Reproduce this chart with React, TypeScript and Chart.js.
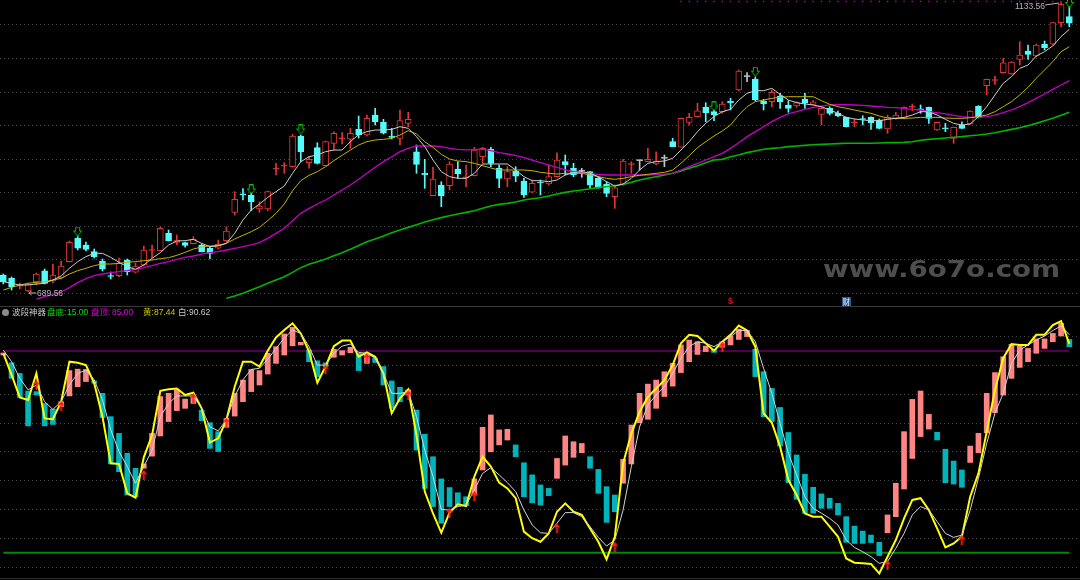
import React, { useEffect, useRef } from "react";
import { Chart, registerables } from "chart.js";

Chart.register(...registerables);

// ---------- price panel data ----------
const openP = [
  715.6, 710.6, 698.7, 691.1, 704.9, 722.2, 706.4, 711.0, 736.0, 771.9,
  761.7, 751.4, 737.1, 714.8, 714.5, 738.6, 719.8, 731.0, 753.2, 752.9,
  779.6, 765.8, 765.2, 763.6, 761.7, 756.6, 756.6, 768.2, 811.8, 840.2,
  838.3, 816.8, 816.8, 878.2, 882.8, 881.7, 928.8, 887.9, 910.9, 883.2,
  917.6, 924.5, 923.8, 939.1, 930.3, 961.0, 949.8, 928.8, 925.3, 948.3,
  904.7, 871.6, 837.2, 853.6, 852.6, 878.2, 864.7, 867.9, 897.1, 908.4,
  879.3, 862.9, 875.1, 859.8, 842.5, 858.3, 855.2, 866.4, 889.4, 879.3,
  875.0, 874.1, 863.9, 854.7, 835.7, 854.7, 885.1, 891.0, 889.4, 885.9,
  894.6, 920.1, 911.5, 949.8, 958.4, 972.8, 966.1, 966.1, 982.5, 999.4,
  1019.8, 1016.2, 982.5, 981.4, 990.2, 975.9, 974.8, 985.6, 977.4, 962.1,
  971.3, 963.6, 957.5, 949.0, 955.6, 957.5, 953.4, 939.6, 955.9, 955.9,
  973.0, 970.5, 972.8, 938.0, 941.4, 925.3, 945.7, 947.2, 974.8, 1006.0,
  1014.0, 1025.9, 1023.9, 1046.4, 1059.2, 1051.5, 1069.5, 1069.5, 1102.6, 1111.8,
];
const highP = [
  717.2, 712.6, 703.4, 703.4, 718.7, 724.8, 732.5, 737.1, 767.8, 775.5,
  766.2, 755.5, 740.2, 720.2, 741.7, 740.2, 734.0, 760.1, 761.7, 789.2,
  784.6, 777.0, 766.2, 774.4, 763.2, 758.5, 769.3, 789.7, 843.4, 848.0,
  841.4, 828.0, 844.5, 887.0, 887.9, 931.4, 930.4, 897.1, 918.5, 921.1,
  935.4, 933.9, 940.6, 959.5, 961.0, 971.3, 954.4, 940.6, 968.7, 965.2,
  915.0, 893.1, 880.8, 858.7, 889.4, 889.4, 884.3, 911.5, 911.5, 911.5,
  884.3, 881.7, 881.7, 863.9, 861.3, 861.3, 884.3, 903.2, 899.7, 886.9,
  879.3, 874.1, 865.4, 858.7, 853.6, 893.1, 889.4, 892.0, 910.0, 904.7,
  899.7, 925.3, 956.4, 963.6, 979.0, 979.9, 968.7, 981.4, 986.6, 1030.0,
  1025.9, 1019.3, 985.1, 999.4, 994.3, 983.0, 981.4, 994.3, 983.0, 973.7,
  973.7, 967.2, 957.9, 954.9, 959.9, 958.4, 954.9, 961.0, 965.2, 973.7,
  977.9, 976.4, 973.3, 950.3, 948.3, 942.6, 950.7, 967.6, 975.3, 1016.2,
  1020.8, 1048.0, 1042.8, 1073.4, 1068.4, 1069.9, 1074.5, 1103.2, 1133.56, 1127.1,
];
const lowP = [
  701.9, 692.6, 694.2, 689.56, 700.3, 701.9, 703.4, 709.5, 735.6, 754.0,
  752.4, 741.7, 721.8, 709.5, 712.6, 715.6, 718.7, 729.4, 741.7, 752.4,
  767.7, 761.6, 758.5, 763.2, 750.9, 740.2, 755.5, 766.2, 807.6, 830.7,
  814.2, 811.8, 814.2, 869.0, 871.6, 881.3, 889.4, 879.3, 885.9, 882.8,
  907.3, 916.5, 909.9, 925.7, 928.8, 945.7, 931.9, 924.2, 915.0, 943.1,
  871.6, 848.6, 837.2, 820.4, 846.0, 863.9, 851.0, 867.4, 886.9, 881.7,
  849.5, 851.0, 858.7, 834.8, 841.8, 838.3, 853.6, 865.4, 869.0, 866.4,
  865.4, 848.6, 848.6, 835.7, 817.9, 853.6, 871.6, 876.7, 889.4, 884.3,
  881.7, 912.4, 911.5, 945.7, 957.5, 950.7, 952.3, 963.6, 968.7, 997.8,
  1012.1, 982.5, 968.7, 973.7, 971.3, 965.2, 972.8, 971.3, 976.4, 945.7,
  961.0, 958.4, 942.6, 943.1, 945.7, 939.1, 939.6, 932.9, 954.4, 954.9,
  967.6, 963.6, 948.3, 937.5, 935.4, 917.6, 940.0, 946.8, 956.4, 991.7,
  1008.1, 1025.0, 1023.4, 1037.7, 1046.4, 1050.0, 1060.7, 1068.8, 1096.4, 1096.4,
];
const closeP = [
  705.4, 697.7, 700.3, 701.9, 717.2, 702.9, 715.6, 729.4, 765.8, 756.6,
  755.0, 743.7, 724.4, 713.3, 733.6, 720.7, 728.4, 754.0, 754.7, 787.2,
  768.2, 769.3, 761.1, 770.4, 751.4, 748.9, 762.7, 783.1, 831.7, 838.6,
  828.0, 821.4, 843.4, 879.7, 884.3, 928.8, 904.7, 893.1, 886.9, 920.1,
  933.0, 926.0, 933.0, 930.3, 955.9, 950.7, 933.0, 926.5, 952.3, 954.4,
  885.4, 869.0, 862.9, 836.8, 885.9, 870.5, 866.2, 907.3, 910.0, 886.9,
  863.9, 874.1, 867.4, 838.3, 856.3, 856.7, 866.4, 892.0, 884.3, 869.0,
  875.0, 853.6, 850.1, 840.9, 849.5, 890.5, 886.6, 891.0, 893.1, 890.5,
  894.6, 912.4, 955.9, 957.5, 967.6, 964.6, 961.0, 977.9, 979.4, 1028.5,
  1019.8, 984.0, 977.9, 995.8, 981.4, 971.3, 979.9, 979.0, 981.4, 971.3,
  963.6, 959.5, 943.1, 950.6, 954.1, 949.2, 940.6, 957.5, 961.0, 972.8,
  974.5, 969.0, 955.9, 949.8, 939.9, 942.2, 940.6, 967.2, 957.5, 1015.8,
  1015.5, 1041.2, 1042.3, 1053.0, 1054.1, 1068.4, 1064.2, 1102.6, 1130.8, 1101.7,
];

// moving-average lines as drawn in the picture
const ma5Start = 0;
const ma5 = [
  705.4, 702.9, 700.3, 700.3, 701.8, 702.9, 708.0, 714.1, 725.9, 736.1,
  743.8, 748.9, 748.9, 742.7, 735.1, 728.4, 724.3, 731.0, 741.2, 749.9,
  761.6, 767.8, 768.3, 770.3, 764.2, 759.1, 760.1, 764.2, 779.5, 800.0,
  815.3, 824.5, 834.7, 843.4, 852.1, 871.6, 889.4, 897.1, 899.7, 904.8,
  907.3, 907.3, 920.1, 931.0, 935.5, 938.0, 938.0, 939.0, 943.1, 940.6,
  927.8, 912.5, 892.0, 874.1, 866.5, 863.9, 863.9, 871.6, 885.9, 885.9,
  885.9, 885.9, 876.7, 866.5, 860.3, 860.3, 858.8, 861.3, 869.0, 872.6,
  874.1, 871.6, 866.5, 858.8, 852.1, 855.2, 863.9, 876.7, 886.9, 889.5,
  890.5, 894.6, 907.3, 920.1, 935.5, 948.3, 958.5, 966.1, 969.7, 984.0,
  994.3, 998.3, 998.3, 1001.9, 992.7, 984.0, 979.9, 977.9, 976.4, 973.8,
  968.7, 963.6, 957.4, 954.9, 953.4, 952.3, 952.3, 954.4, 955.9, 957.4,
  961.0, 966.1, 966.1, 961.0, 954.4, 948.2, 945.7, 947.2, 958.5, 973.8,
  991.7, 1009.6, 1019.8, 1032.6, 1037.7, 1051.5, 1058.2, 1066.9, 1081.2, 1092.4,
];
const ma10Start = 0;
const ma10 = [
  692.6, 696.7, 700.3, 702.9, 704.4, 705.4, 708.0, 710.5, 717.2, 722.3,
  725.9, 730.0, 732.5, 732.5, 733.5, 735.1, 736.1, 737.6, 738.6, 740.7,
  742.2, 745.8, 750.4, 755.5, 758.6, 760.1, 761.1, 764.2, 770.8, 776.5,
  782.1, 788.7, 799.0, 810.2, 824.5, 845.0, 860.3, 868.5, 874.1, 881.8,
  891.0, 899.2, 907.3, 915.0, 920.1, 922.7, 923.7, 925.2, 930.3, 937.0,
  931.9, 920.1, 911.4, 900.7, 893.5, 890.5, 889.5, 886.9, 883.3, 879.7,
  876.7, 876.7, 876.7, 876.7, 875.6, 873.1, 871.6, 870.5, 871.6, 871.6,
  871.6, 869.0, 866.5, 863.9, 862.4, 863.9, 866.5, 868.5, 870.1, 871.6,
  873.1, 876.7, 886.9, 898.6, 910.9, 920.1, 928.8, 936.5, 945.7, 961.0,
  973.8, 981.5, 984.0, 986.6, 988.1, 989.1, 989.1, 989.1, 989.1, 983.0,
  977.4, 973.8, 971.3, 968.7, 966.1, 963.6, 959.5, 956.4, 955.9, 955.9,
  956.4, 957.4, 957.4, 957.4, 956.4, 955.9, 955.9, 956.9, 958.5, 961.0,
  966.1, 973.8, 981.5, 991.7, 1003.5, 1017.3, 1030.0, 1042.8, 1058.2, 1065.8,
];
const ma20Start = 4;
const ma20 = [
  678.8, 682.4, 685.5, 689.6, 696.2, 703.9,
  710.0, 714.6, 717.2, 719.2, 720.8, 722.3, 724.3, 726.9, 730.0, 733.5,
  736.1, 739.7, 742.7, 744.8, 747.8, 749.9, 751.4, 754.0, 756.5, 759.1,
  761.7, 765.2, 771.9, 779.5, 787.2, 799.0, 810.2, 817.9, 824.5, 830.7,
  838.3, 846.0, 853.7, 862.5, 871.6, 880.8, 889.5, 897.1, 904.8, 909.9,
  913.5, 913.5, 913.5, 912.5, 909.9, 908.4, 907.4, 908.4, 908.4, 906.3,
  903.3, 901.2, 898.6, 896.1, 892.0, 887.9, 884.3, 880.8, 876.7, 874.1,
  872.6, 871.6, 870.0, 869.0, 869.0, 869.0, 869.0, 869.0, 869.0, 870.0,
  870.5, 871.6, 876.7, 881.8, 886.9, 892.0, 897.1, 902.2, 909.9, 918.6,
  927.8, 935.5, 943.1, 950.8, 957.4, 962.6, 966.1, 969.7, 972.8, 974.8,
  976.4, 976.9, 976.9, 976.4, 975.9, 974.8, 973.8, 972.8, 972.3, 971.3,
  969.7, 968.7, 966.1, 964.6, 962.6, 960.5, 958.5, 957.4, 957.4, 958.5,
  961.0, 964.6, 968.7, 973.8, 979.9, 986.6, 993.2, 1000.4, 1007.0, 1013.7,
];
const ma60Start = 27;
const ma60 = [
  679.9, 683.4, 687.5,
  692.6, 697.7, 702.9, 708.0, 713.1, 719.7, 726.9, 732.0, 736.1, 740.2,
  745.3, 749.9, 755.0, 760.8, 766.7, 770.8, 775.4, 780.6, 784.6, 788.7,
  792.8, 796.9, 800.5, 803.6, 806.6, 809.2, 811.7, 814.3, 817.9, 821.5,
  824.0, 825.5, 827.6, 830.7, 832.7, 834.2, 836.8, 839.9, 842.4, 844.5,
  846.0, 848.0, 849.6, 851.1, 852.6, 854.7, 857.7, 861.3, 863.9, 866.4,
  869.0, 871.6, 875.1, 879.2, 883.3, 887.9, 892.0, 893.0, 897.1, 899.7,
  903.3, 905.8, 908.4, 909.9, 910.9, 912.5, 913.5, 914.5, 915.5, 916.0,
  916.5, 917.1, 917.6, 917.6, 917.6, 917.6, 918.1, 918.6, 918.6, 919.1,
  920.1, 922.2, 923.7, 924.7, 925.8, 926.8, 927.8, 929.3, 930.3, 931.9,
  933.9, 936.5, 939.0, 941.6, 944.7, 948.2, 952.3, 955.9, 960.5, 965.1,
];

// signal marks on the price panel
const buyMarkIdx = [9, 30, 36, 86, 91, 129];
const buyMarkPrice = [782.3, 846.8, 938.8, 974.1, 1027.4, 1132.8];
const holdFrom = 82;
const holdTo = 128;
const holdPrice = 1135.1;
const eventIdx = [88, 102];
const eventText = ["$", "财"];

// ---------- indicator panel data ----------
const indName = "波段神器";
const bottomLevel = 15;
const topLevel = 85;
const barOpen = [
  83.6, 80.9, 77.2, 71.1, 70.9, 66.8, 64.8, 65.7, 69.4, 72.6,
  74.4, 74.6, 70.3, 62.2, 56.4, 49.5, 44.3, 44.3, 48.5, 55.5,
  60.5, 64.3, 65.1, 66.8, 64.5, 60.1, 57.0, 58.5, 62.4, 67.4,
  70.9, 73.2, 77.0, 80.7, 83.6, 86.8, 87.1, 85.3, 81.6, 80.9,
  82.8, 83.6, 84.4, 84.2, 80.7, 82.5, 79.6, 74.6, 72.4, 69.7,
  64.5, 56.1, 48.3, 40.6, 37.6, 35.8, 34.4, 35.0, 43.7, 50.0,
  52.4, 54.1, 52.4, 46.2, 42.0, 38.5, 37.3, 40.8, 45.4, 48.1,
  49.7, 48.3, 43.9, 37.9, 35.0, 39.1, 45.8, 60.1, 61.3, 65.1,
  69.2, 72.8, 77.5, 81.3, 83.8, 84.8, 85.6, 86.3, 87.1, 89.0,
  90.0, 85.6, 77.8, 72.0, 65.4, 56.7, 48.9, 42.2, 37.7, 35.4,
  33.9, 32.1, 27.5, 24.2, 22.5, 21.1, 18.6, 21.9, 27.5, 37.1,
  47.7, 55.3, 57.9, 56.8, 50.9, 46.8, 43.7, 46.3, 49.7, 56.6,
  63.6, 69.7, 75.5, 79.3, 81.3, 84.2, 85.9, 88.2, 90.2, 89.0,
];
const barClose = [
  84.3, 75.5, 68.9, 59.0, 69.7, 59.0, 59.5, 67.4, 78.2, 78.7,
  78.6, 73.8, 61.9, 45.8, 43.1, 35.0, 34.4, 45.8, 56.4, 69.2,
  70.3, 71.5, 68.3, 69.4, 60.8, 51.2, 50.1, 61.6, 70.3, 74.9,
  78.6, 78.2, 84.2, 86.5, 90.9, 93.2, 88.0, 81.3, 76.1, 79.6,
  85.6, 85.1, 86.3, 78.2, 84.2, 81.0, 73.2, 65.1, 67.4, 71.5,
  50.6, 37.3, 31.0, 25.2, 31.0, 31.5, 31.3, 40.6, 58.5, 62.8,
  57.6, 57.8, 48.3, 34.4, 32.3, 31.5, 34.8, 47.7, 55.5, 53.5,
  52.9, 44.3, 35.6, 25.5, 29.2, 47.4, 59.3, 70.3, 73.5, 74.9,
  77.8, 80.7, 87.1, 88.8, 88.2, 86.7, 84.5, 88.2, 90.2, 92.6,
  92.1, 76.1, 62.2, 60.5, 52.0, 39.3, 33.5, 28.7, 28.7, 30.4,
  30.4, 28.1, 18.6, 18.2, 18.2, 18.5, 14.0, 28.1, 39.1, 57.0,
  68.2, 71.1, 63.0, 54.1, 39.3, 38.8, 37.7, 52.0, 56.4, 70.3,
  77.5, 83.0, 87.3, 86.7, 85.9, 89.2, 89.2, 91.1, 94.6, 86.5,
];
const yellowLine = [
  84.2, 76.7, 68.9, 68.0, 77.2, 61.6, 61.3, 67.4, 81.3, 80.9,
  80.1, 73.8, 62.2, 46.0, 45.8, 35.6, 34.1, 48.1, 55.8, 71.2,
  71.7, 72.0, 69.7, 70.5, 65.1, 53.2, 54.7, 61.1, 72.6, 81.3,
  81.3, 79.6, 85.1, 89.7, 92.3, 94.6, 91.1, 84.8, 74.0, 79.6,
  86.7, 88.6, 88.6, 83.0, 84.5, 83.0, 77.2, 63.4, 68.6, 71.7,
  55.8, 36.2, 28.6, 21.9, 28.9, 31.8, 31.2, 41.4, 48.3, 44.9,
  39.3, 37.3, 33.9, 22.3, 20.0, 18.8, 21.7, 29.2, 32.1, 29.2,
  28.1, 23.4, 18.8, 12.7, 20.5, 46.0, 56.4, 63.9, 69.1, 72.0,
  74.9, 80.1, 87.7, 90.6, 90.2, 87.7, 85.1, 88.2, 90.6, 93.8,
  92.1, 86.5, 63.4, 60.1, 51.8, 40.2, 35.0, 28.6, 27.5, 27.5,
  24.0, 20.6, 13.0, 11.5, 11.3, 11.1, 7.8, 13.6, 19.4, 26.9,
  33.3, 33.9, 29.8, 23.4, 16.8, 18.2, 20.6, 34.4, 42.5, 57.0,
  71.5, 82.5, 87.4, 87.1, 87.1, 90.6, 90.6, 94.0, 95.4, 87.44,
];
const whiteLine = [
  85.3, 81.3, 75.5, 71.5, 73.2, 67.4, 64.7, 67.4, 73.2, 77.2,
  78.4, 75.0, 68.0, 57.6, 50.1, 44.9, 39.1, 44.9, 50.6, 62.2,
  66.8, 69.4, 69.4, 69.4, 65.1, 58.7, 57.3, 61.1, 69.2, 75.0,
  78.6, 79.0, 82.1, 85.9, 89.4, 92.3, 91.1, 86.5, 80.1, 80.1,
  84.2, 86.7, 87.4, 84.5, 84.2, 82.5, 77.2, 70.3, 70.3, 70.9,
  62.2, 50.6, 41.4, 30.0, 29.8, 31.0, 31.5, 36.8, 42.5, 44.5,
  42.0, 39.3, 36.2, 29.8, 24.6, 21.9, 21.7, 25.2, 28.9, 28.9,
  27.5, 24.0, 20.3, 17.3, 19.4, 29.8, 44.9, 58.7, 66.3, 69.7,
  72.6, 77.2, 82.5, 86.5, 88.2, 87.7, 86.5, 88.2, 90.0, 92.1,
  92.1, 88.2, 79.0, 70.3, 59.9, 49.5, 42.0, 34.4, 30.4, 28.7,
  26.9, 24.6, 19.4, 16.8, 15.3, 13.6, 11.3, 11.9, 16.5, 21.7,
  28.1, 31.0, 29.8, 25.8, 21.7, 20.3, 21.1, 29.8, 40.8, 52.9,
  63.4, 70.3, 80.7, 85.3, 87.1, 88.8, 90.2, 92.1, 93.7, 90.62,
];
const sigIdx = [4, 7, 17, 23, 27, 39, 44, 49, 54, 57, 67, 74, 87, 107, 116];
const sigVal = [73.2, 65.9, 42.0, 68.6, 60.1, 78.6, 82.5, 69.7, 28.9, 34.7, 23.5, 17.1, 86.5, 10.7, 19.4];

// ---------- styles / layout ----------
const RED = "#e23434";
const CYAN = "#54fcfc";
const DOJI = "#c4c4c4";
const PINK = "#ff8484";
const TEAL = "#00b4bc";
const GRID = "#444444";
const X_MIN = -0.4;
const X_MAX = 130.29;
const PRICE_MIN = 668.1;
const PRICE_MAX = 1137.4;
const PRICE_GRID_TOP = 1099.06;
const PRICE_GRID_STEP = 51.38;
const PRICE_GRID_COUNT = 9;
const IND_MIN = 5.51;
const IND_MAX = 100.27;
const IND_GRID = [10, 20, 30, 40, 50, 60, 70, 80, 90];
const LABEL_FONT = '8.5px "Liberation Sans", Arial, sans-serif';

function makeDownArrow(color: string) {
  const c = document.createElement("canvas");
  c.width = 9;
  c.height = 10;
  const g = c.getContext("2d")!;
  g.strokeStyle = color;
  g.lineWidth = 1;
  g.beginPath();
  g.moveTo(2.5, 0.5);
  g.lineTo(6.5, 0.5);
  g.lineTo(6.5, 4.5);
  g.lineTo(8.5, 4.5);
  g.lineTo(4.5, 9.5);
  g.lineTo(0.5, 4.5);
  g.lineTo(2.5, 4.5);
  g.closePath();
  g.stroke();
  return c;
}
function makeUpArrow(color: string) {
  const c = document.createElement("canvas");
  c.width = 7;
  c.height = 10;
  const g = c.getContext("2d")!;
  g.fillStyle = color;
  g.beginPath();
  g.moveTo(3.5, 0);
  g.lineTo(7, 4.5);
  g.lineTo(0, 4.5);
  g.closePath();
  g.fill();
  g.fillRect(2.5, 4.5, 2, 5.5);
  return c;
}

const lineDs = (data: number[], start: number, color: string, width: number, order: number) => ({
  type: "line" as const,
  data: data.map((v, k) => ({ x: k + start, y: v })),
  borderColor: color,
  borderWidth: width,
  pointRadius: 0,
  fill: false,
  tension: 0,
  order,
});

const levelDs = (level: number, last: number, color: string, width: number) => ({
  type: "line" as const,
  data: [
    { x: 0, y: level },
    { x: last, y: level },
  ],
  borderColor: color,
  borderWidth: width,
  pointRadius: 0,
  fill: false,
  order: 12,
});

const baseOptions = (yScale: any) => ({
  responsive: false,
  maintainAspectRatio: false,
  animation: false as const,
  devicePixelRatio: 1,
  events: [] as any[],
  layout: { padding: 0, autoPadding: false },
  plugins: { legend: { display: false }, tooltip: { enabled: false } },
  scales: {
    x: { type: "linear" as const, min: X_MIN, max: X_MAX, display: false, offset: false },
    y: yScale,
  },
});

export default function App() {
  const topRef = useRef<HTMLCanvasElement>(null);
  const botRef = useRef<HTMLCanvasElement>(null);

  useEffect(() => {
    const n = closeP.length;
    const idx = closeP.map((_, i) => i);
    const dir = (i: number) => (closeP[i] > openP[i] ? 1 : closeP[i] < openP[i] ? -1 : 0);
    const col = (i: number) => (dir(i) > 0 ? RED : dir(i) < 0 ? CYAN : DOJI);
    const flat = (i: number) => Math.abs(closeP[i] - openP[i]) < 3;

    const greenArrow = makeDownArrow("#00c400");
    const redArrow = makeUpArrow("#ff1a1a");

    const holdIdx = idx.filter((i) => i >= holdFrom && i <= holdTo);

    const priceDecor = {
      id: "priceDecor",
      beforeDatasetsDraw(chart: any) {
        const { ctx } = chart;
        ctx.save();
        ctx.font = 'bold 23px "DejaVu Sans", sans-serif';
        const txt = "www.6o7o.com";
        const w = ctx.measureText(txt).width;
        ctx.translate(823, 277);
        ctx.scale(237 / w, 1);
        ctx.fillStyle = "#4e4e4e";
        ctx.textBaseline = "alphabetic";
        ctx.fillText(txt, 0, 0);
        ctx.restore();
      },
      afterDatasetsDraw(chart: any) {
        const { ctx, scales } = chart;
        const xs = scales.x;
        const ys = scales.y;
        ctx.save();
        ctx.font = LABEL_FONT;
        ctx.fillStyle = "#b8b8b8";
        ctx.strokeStyle = "#b8b8b8";
        ctx.lineWidth = 1;
        // highest price
        const maxV = Math.max(...highP);
        const maxI = highP.indexOf(maxV);
        const hx = xs.getPixelForValue(maxI);
        const hy = ys.getPixelForValue(maxV);
        ctx.beginPath();
        ctx.moveTo(hx - 16, hy + 2.5);
        ctx.lineTo(hx - 2, hy + 0.5);
        ctx.stroke();
        ctx.textAlign = "right";
        ctx.textBaseline = "middle";
        ctx.fillText(maxV.toFixed(2), hx - 16, hy + 4);
        // lowest price
        const minV = Math.min(...lowP);
        const minI = lowP.indexOf(minV);
        const lx = xs.getPixelForValue(minI);
        const ly = ys.getPixelForValue(minV) + 1;
        ctx.beginPath();
        ctx.moveTo(lx + 1, ly);
        ctx.lineTo(lx + 8, ly);
        ctx.moveTo(lx + 1, ly);
        ctx.lineTo(lx + 3.5, ly - 2);
        ctx.moveTo(lx + 1, ly);
        ctx.lineTo(lx + 3.5, ly + 2);
        ctx.stroke();
        ctx.textAlign = "left";
        ctx.fillText(minV.toFixed(2), lx + 9, ly + 0.5);
        // event marks along the bottom edge
        eventIdx.forEach((ei, k) => {
          const ex = xs.getPixelForValue(ei);
          const ey = chart.chartArea.bottom - 4.5;
          if (eventText[k] === "$") {
            ctx.fillStyle = "#e01010";
            ctx.font = 'bold 9px "Liberation Sans", Arial, sans-serif';
            ctx.textAlign = "center";
            ctx.fillText(eventText[k], ex, ey);
          } else {
            ctx.fillStyle = "#2a5a96";
            ctx.fillRect(Math.round(ex - 4.5), Math.round(ey - 4.5), 9, 9);
            ctx.fillStyle = "#e8eef8";
            ctx.font = '7.5px "Noto Sans CJK SC", sans-serif';
            ctx.textAlign = "center";
            ctx.fillText(eventText[k], ex, ey + 0.5);
          }
        });
        ctx.restore();
      },
    };

    const topChart = new Chart(topRef.current!, {
      type: "bar",
      data: {
        datasets: [
          {
            type: "bar",
            data: idx.map((i) => ({ x: i, y: [Math.min(openP[i], closeP[i]), Math.max(openP[i], closeP[i])] })),
            backgroundColor: idx.map((i) => (flat(i) ? col(i) : dir(i) > 0 ? "#000000" : col(i))),
            borderColor: idx.map((i) => col(i)),
            borderWidth: 1,
            borderSkipped: false,
            barThickness: 6,
            minBarLength: 1,
            grouped: false,
            order: 9,
          } as any,
          {
            type: "bar",
            data: idx.map((i) => ({ x: i, y: [lowP[i], highP[i]] })),
            backgroundColor: idx.map((i) => col(i)),
            borderWidth: 0,
            barThickness: 1,
            grouped: false,
            order: 10,
          } as any,
          lineDs(ma60, ma60Start, "#00b400", 1.6, 6),
          lineDs(ma20, ma20Start, "#c400c4", 1.3, 5),
          lineDs(ma10, ma10Start, "#c2b400", 1, 4),
          lineDs(ma5, ma5Start, "#cccccc", 1, 3),
          {
            type: "line",
            data: holdIdx.map((i) => ({ x: i, y: holdPrice })),
            showLine: false,
            pointStyle: "rect",
            pointRadius: 1,
            pointBorderWidth: 0,
            pointBackgroundColor: "#b400b4",
            order: 1,
          } as any,
          {
            type: "line",
            data: buyMarkIdx.map((i, k) => ({ x: i, y: buyMarkPrice[k] })),
            showLine: false,
            pointStyle: greenArrow,
            pointRadius: 5,
            order: 0,
          } as any,
        ],
      },
      options: baseOptions({
        type: "linear",
        min: PRICE_MIN,
        max: PRICE_MAX,
        position: "left",
        ticks: { display: false },
        grid: { color: GRID, drawTicks: false, lineWidth: 1 },
        border: { display: false, dash: [1, 3] },
        afterBuildTicks: (s: any) => {
          const t = [];
          for (let k = 0; k < PRICE_GRID_COUNT; k++) t.push({ value: PRICE_GRID_TOP - k * PRICE_GRID_STEP });
          s.ticks = t;
        },
        afterFit: (s: any) => {
          s.width = 0;
        },
      }) as any,
      plugins: [priceDecor],
    });

    const botChart = new Chart(botRef.current!, {
      type: "bar",
      data: {
        datasets: [
          levelDs(topLevel, n - 1, "#a000a0", 1.2),
          levelDs(bottomLevel, n - 1, "#008a00", 2),
          {
            type: "bar",
            data: idx.map((i) => ({ x: i, y: [Math.min(barOpen[i], barClose[i]), Math.max(barOpen[i], barClose[i])] })),
            backgroundColor: idx.map((i) => (barClose[i] > barOpen[i] ? PINK : TEAL)),
            borderWidth: 0,
            barThickness: 5,
            minBarLength: 1,
            grouped: false,
            order: 8,
          } as any,
          lineDs(yellowLine, 0, "#ffff00", 2, 4),
          lineDs(whiteLine, 0, "#d4d4d4", 1, 3),
          {
            type: "line",
            data: sigIdx.map((i, k) => ({ x: i, y: sigVal[k] })),
            showLine: false,
            pointStyle: redArrow,
            pointRadius: 5,
            order: 0,
          } as any,
        ],
      },
      options: baseOptions({
        type: "linear",
        min: IND_MIN,
        max: IND_MAX,
        position: "left",
        ticks: { display: false },
        grid: { color: GRID, drawTicks: false, lineWidth: 1 },
        border: { display: false, dash: [1, 3] },
        afterBuildTicks: (s: any) => {
          s.ticks = IND_GRID.map((v) => ({ value: v }));
        },
        afterFit: (s: any) => {
          s.width = 0;
        },
      }) as any,
    });

    return () => {
      topChart.destroy();
      botChart.destroy();
    };
  }, []);

  const last = yellowLine.length - 1;
  const hdr: React.CSSProperties = {
    position: "absolute",
    top: 307,
    font: '8.5px "Liberation Sans", "Noto Sans CJK SC", sans-serif',
    lineHeight: "11px",
    whiteSpace: "nowrap",
  };

  return (
    <div
      style={{
        position: "fixed",
        left: 0,
        top: 0,
        width: 1080,
        height: 580,
        background: "#000",
        overflow: "hidden",
      }}
    >
      <canvas ref={topRef} width={1080} height={306} style={{ position: "absolute", left: 0, top: 0, width: 1080, height: 306 }} />
      <div style={{ position: "absolute", left: 0, top: 306, width: 1080, height: 1, background: "#383838" }} />
      <canvas ref={botRef} width={1080} height={273} style={{ position: "absolute", left: 0, top: 307, width: 1080, height: 273 }} />
      <div style={{ position: "absolute", left: 0, top: 578, width: 1080, height: 1, background: "#303030" }} />
      <div
        style={{
          position: "absolute",
          left: 2,
          top: 309,
          width: 7,
          height: 7,
          borderRadius: "50%",
          background: "#8c8c8c",
        }}
      />
      <span style={{ ...hdr, left: 12, color: "#c8c8c8" }}>{indName}</span>
      <span style={{ ...hdr, left: 47, color: "#00e000" }}>盘底:</span>
      <span style={{ ...hdr, left: 67, color: "#00e000" }}>{bottomLevel.toFixed(2)}</span>
      <span style={{ ...hdr, left: 91, color: "#e000e0" }}>盘顶:</span>
      <span style={{ ...hdr, left: 112, color: "#e000e0" }}>{topLevel.toFixed(2)}</span>
      <span style={{ ...hdr, left: 143, color: "#c8c800" }}>黄:</span>
      <span style={{ ...hdr, left: 154, color: "#c8c800" }}>{yellowLine[last].toFixed(2)}</span>
      <span style={{ ...hdr, left: 178, color: "#c8c8c8" }}>白:</span>
      <span style={{ ...hdr, left: 189, color: "#c8c8c8" }}>{whiteLine[last].toFixed(2)}</span>
    </div>
  );
}
